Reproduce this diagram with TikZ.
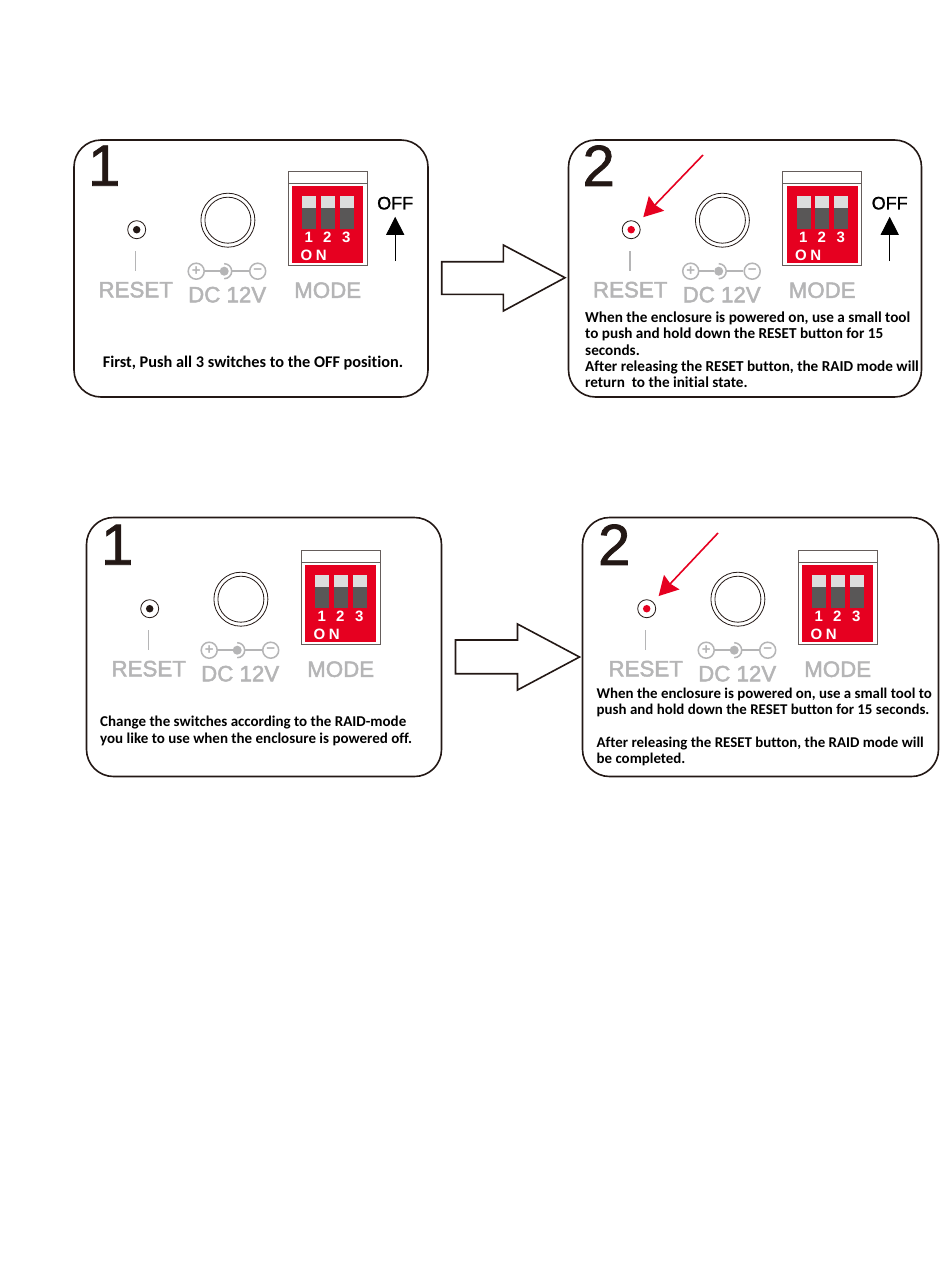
\documentclass[tikz,border=0pt]{standalone}
\usepackage{fontspec}
\usepackage{xcolor}
\usetikzlibrary{arrows.meta, positioning}
\setmainfont{Liberation Sans}
\newfontfamily\notefont[Ligatures=NoCommon]{Carlito}
\newfontfamily\heavyfont[FakeBold=1.2]{Liberation Sans}
\newfontfamily\grayfont[FakeBold=2]{Liberation Sans}
\definecolor{panelblack}{HTML}{231815}
\definecolor{labelgray}{HTML}{B5B5B6}
\definecolor{dipred}{HTML}{E60020}
\definecolor{dipdark}{HTML}{595757}
\definecolor{diplight}{HTML}{DCDDDD}

\begin{document}
\begin{tikzpicture}[
    x=1pt, y=-1pt,
    frame/.style={
        draw=panelblack, line width=1.6pt, fill=white,
        rectangle, rounded corners=27pt, inner sep=0pt
    },
    bignum/.style={
        font=\heavyfont\fontsize{58}{58}\selectfont, text=panelblack, inner sep=0pt
    },
    graylbl/.style={
        font=\grayfont\fontsize{22.3}{22.3}\selectfont, text=labelgray, inner sep=0pt
    },
    symbol/.style={
        circle, draw=labelgray, line width=1.5pt, minimum size=16pt, inner sep=0pt,
        text=labelgray, font=\bfseries\fontsize{15}{15}\selectfont
    },
    symline/.style={
        draw=labelgray, line width=1.5pt
    },
    ring/.style={
        circle, draw=panelblack, line width=0.8pt, inner sep=0pt
    },
    whitelbl/.style={
        text=white, inner sep=0pt, font=\bfseries\fontsize{15}{15}\selectfont
    },
    block/.style={
        rectangle, inner sep=0pt, outer sep=0pt
    },
    note/.style={
        align=left, inner sep=0pt, text=black,
        font=\notefont\bfseries\fontsize{15}{16.4}\selectfont
    },
    hollow/.style={
        draw=panelblack, line width=1.6pt, fill=white, line join=miter
    },
    upArrow/.style={
        -{Triangle[length=18pt, width=18pt]}, line width=1pt, draw=black
    },
    ledArrow/.style={
        -{Stealth[length=19pt, width=21pt, inset=2pt]}, line width=1.6pt, draw=dipred,
        shorten >=8pt
    },
    pics/slider/.style={
        code={
            \node[block, fill=dipdark, minimum width=14pt, minimum height=33pt] at (0,0) {};
            \node[block, fill=diplight, minimum width=14pt, minimum height=12pt] at (0,-10.5) {};
            \node[whitelbl] at (-0.5,25) {#1};
        }
    },
    pics/rearpanel/.style 2 args={
        code={
            \node[bignum] (-num) at (31,26.5) {#1};
            % reset hole
            \node[ring, minimum size=18pt, fill=white] (-led) at (63.5,90.5) {};
            \node[circle, fill=#2, minimum size=7.5pt, inner sep=0pt] (-dot) at (63.5,90.5) {};
            \node[graylbl] (-reset) at (62.5,150.5) {RESET};
            \draw[symline] (-reset.north |- 0,112) -- (-reset.north |- 0,132);
            % power jack
            \node[ring, minimum size=54pt] (-jack) at (154.7,81) {};
            \node[ring, minimum size=46pt] (-jackin) at (154.7,81) {};
            \node[symbol] (-plus) at (123,132) {+};
            \node[circle, fill=labelgray, minimum size=9pt, inner sep=0pt] (-mid) at (151,132) {};
            \node[symbol] (-minus) at (184.5,132) {−};
            \draw[symline] (-plus) -- (-mid);
            \draw[symline] (151,124.5) arc[start angle=-90, end angle=90, radius=7.5];
            \draw[symline] (158.5,132) -- (-minus);
            \node[graylbl] (-dc) at (154,155.5) {DC 12V};
            % dip switch
            \node[block, draw=panelblack!70, line width=0.8pt, minimum width=79pt, minimum height=94pt] (-box) at (254.5,79) {};
            \draw[draw=panelblack!70, line width=0.8pt] (-box.west |- 0,44) -- (-box.east |- 0,44);
            \node[block, fill=dipred, minimum width=71pt, minimum height=77pt] (-red) at (254.5,85.5) {};
            \pic at (236,73) {slider=1};
            \pic at (254.5,73) {slider=2};
            \pic at (273.5,73) {slider=3};
            \node[whitelbl] (-on) at (240.5,116) {O\hspace{3.7pt}N};
            \node[graylbl] (-mode) at (254.5,151) {MODE};
        }
    },
    pics/offmark/.style={
        code={
            \node[font=\heavyfont\fontsize{18}{18}\selectfont, text=black, inner sep=0pt] (-off) at (322,64) {OFF};
            \coordinate (-tail) at (322,122);
            \draw[upArrow, shorten >=7pt] (-tail) -- (-off.south);
        }
    }
]
\useasboundingbox (0,0) rectangle (950,1266);

% top row
\node[frame, minimum width=354pt, minimum height=257pt] (frameA) at (251,268.5) {};
\node[frame, minimum width=353pt, minimum height=257pt] (frameB) at (745,268.5) {};
\pic (a) at (frameA.north west) {rearpanel={1}{panelblack}};
\pic (a) at (frameA.north west) {offmark};
\pic (b) at (frameB.north west) {rearpanel={2}{dipred}};
\pic (b) at (frameB.north west) {offmark};

\node[note, anchor=center, font=\notefont\bfseries\fontsize{16.3}{16.4}\selectfont] (noteA) at (253,363) {First, Push all 3 switches to the OFF position.};
\node[note, anchor=north west, font=\notefont\bfseries\fontsize{15.2}{16.4}\selectfont] (noteB) at (585,311.5) {
    When the enclosure is powered on, use a small tool\\
    to push and hold down the RESET button for 15\\
    seconds.\\
    After releasing the RESET button, the RAID mode will\\
    return\ \ to the initial state.
};

% bottom row
\node[frame, minimum width=355pt, minimum height=259pt] (frameC) at (264,647) {};
\node[frame, minimum width=356pt, minimum height=259pt] (frameD) at (760.5,647) {};
\pic (c) at ([xshift=0.5pt, yshift=-1.5pt]frameC.north west) {rearpanel={1}{panelblack}};
\pic (d) at ([xshift=1.5pt, yshift=-1.5pt]frameD.north west) {rearpanel={2}{dipred}};

\node[note, anchor=north west] (noteC) at (100,716) {
    Change the switches according to the RAID-mode\\
    you like to use when the enclosure is powered off.
};
\node[note, anchor=north west, font=\notefont\bfseries\fontsize{14.9}{16.4}\selectfont] (noteD) at (596.5,687.5) {
    When the enclosure is powered on, use a small tool to\\
    push and hold down the RESET button for 15 seconds.\\
    \\
    After releasing the RESET button, the RAID mode will\\
    be completed.
};

% hollow arrows between the panels
\draw[hollow] (441.7,261.7) -- (503.3,261.7) -- (503.3,245) -- (565,277.7) -- (503.3,311) -- (503.3,294.3) -- (441.7,294.3) -- cycle;
\draw[hollow] (455.5,640) -- (517.5,640) -- (517.5,624) -- (579.5,657) -- (517.5,690) -- (517.5,673.7) -- (455.5,673.7) -- cycle;

% red pointers
\coordinate (startB) at (703,155);
\coordinate (startD) at (718,533);
\draw[ledArrow] (startB) -- (b-led);
\draw[ledArrow] (startD) -- (d-led);

\end{tikzpicture}
\end{document}
